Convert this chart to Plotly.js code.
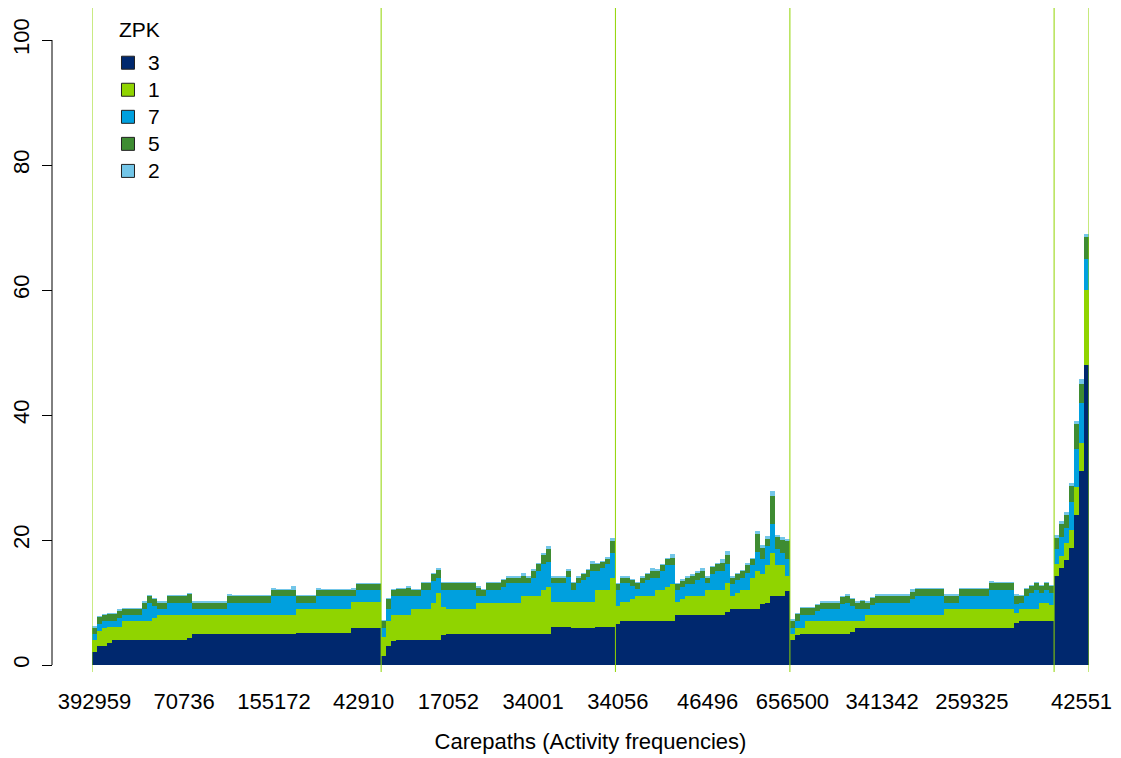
<!DOCTYPE html>
<html>
<head>
<meta charset="utf-8">
<script src="https://cdn.plot.ly/plotly-3.0.1.min.js"></script>
<style>html,body{margin:0;padding:0;background:#fff}#chart{width:1121px;height:758px}</style>
</head>
<body>
<div id="chart"></div>
<script>
// ZPK stacked counts per carepath bar, one line per carepath group
var zpk3 = [
  2.1,3,3,3.5,4,4, 4,4,4,4,4, 4,4,4,4,4, 4,4,4, 4.4, 5,5,5,5,5, 5,5,5,5,5, 5,5,5,5,5, 5,5,5,5,5, 5, 5.1,5.1,5.1,5.1,5.1, 5.1,5.1,5.1,5.1,5.1, 5.1, 6,6,6,6,6, 6,
  1.5,3,3.8, 4,4,4,4,4, 4,4,4,4, 4.8, 5,5,5,5,5, 5,5,5,5,5, 5,5,5,5,5, 5,5,5,5,5, 5, 6.1,6.1,6.1,6.1, 6,6,6,6,6, 6.1,6.1,6.1,6.1,
  6.6, 7,7,7,7,7, 7,7,7,7,7, 7, 8,8,8,8,8, 8,8,8,8,8, 8.5, 9,9,9,9,9, 9, 9.8,10,11,11,11,11.8,
  4,4.8, 5,5,5,5,5, 5,5,5,5,5, 5.3, 6,6,6,6,6, 6,6,6,6,6, 6,6,6,6,6, 6,6,6,6,6, 6,6,6,6,6, 6,6,6,6,6, 6,6, 6.8, 7.1,7.1,7.1,7.1,7.1, 7.1,7.1,
  14.3,15.5,16.8,18.8,24,31,48
];
var zpk1 = [
  1.9,2.5,3,2.6,2.1,2.1, 3.1,3.1,3.1,3.1,3.1, 3.1, 3.5, 4,4,4,4,4, 4, 3.6, 3,3,3,3,3, 3,3,3,3,3, 3,3,3,3,3, 3,3,3,3,3, 3, 3.9,3.9,3.9,3.9,3.9, 3.9,3.9,3.9,3.9,3.9, 3.9, 4.1,4.1,4.1,4.1,4.1, 4.1,
  3,4.1,4.2,4,4,4, 5,5,5,5, 6,7.5,4.5, 4,4,4,4,4, 4, 5,5,5,5,5, 5,5,5,5, 6,6,6,6, 7,7.5, 4,4,4,4, 4.1,4.1,4.1,4.1,4.1, 5.9,5.9,5.9, 7.9,
  2.9,3.1,3.1,3.6, 4.1,4.1,4.1,4.1, 5,5,5.5,6, 2.1,2.5, 3.1,3.1,3.1,3.1, 4,4,4,4, 4.6, 2.1,2.6,3,3,5,6.1,4.8,6,7,5,5,2.5,
  1,1.2,1, 2.1,2.1,2.1,2.1,2.1, 2.1,2.1,2.1,2.1, 1.8, 1.1,1.1, 2,2,2,2,2, 2,2,2,2,2, 2,2,2,2,2, 2, 3,3,3,3,3, 3,3,3,3,3, 3,3,3,3, 1.5, 1.9,1.9,1.9,1.9, 2.9,2.9,2.5,
  1.8,2,2.7,2.8,4.5,4.5,12
];
var zpk7 = [
  1,1,1,1,1,1.4, 0.9,0.9,0.9,0.9, 1.9,2.9,2,1,1, 2,2,2,2,2, 1,1,1,1,1, 1,1, 2,2,2,2,2, 2,2,2,2, 3,3,3,3,3, 1,1,1,1, 2,2,2,2,2, 2,2, 0.9, 1.9,1.9,1.9,1.9,1.9,
  1.5,1.9,3, 3.1,3.1,3.1, 2,2, 3,3, 3.5,2.5,2.7, 3,3,3,3,3, 3, 1,1, 2,2,2, 2.5, 3.1,3.1,3.1, 2.1,2.1,3,4.1,4.1,4, 3,3,3, 4,1.9,3,3.5,4,5, 3.1,3.5,4.1,4,
  2.5,3,3,2,1,2,2.5,2.9,2,3,3.5,3, 1.9,2,1.9,1.9,2.5,2.9,1.1,2.5,3.1,3.1,3, 1.9,2,2,2.8,2,3,2.4,3,4.5,2.5,2,2.7,
  1,1.1,2,0.9,0.9,1.5, 1.9,1.9,1.9,1.9, 2.7,2.9,2.4, 1.9,1.9,1,1.6, 2,2,2,2,2, 2,2, 2.6, 3,3,3,3,3, 3, 1,1,1, 2,2,2,2,2, 2, 3,3,3,3,3, 1.5,1,2,2.5,3,1.5,2,2,
  2.5,3,2.5,4.5,6,6.5,5
];
var zpk5 = [
  1,1.2,1,1,1,1.2, 1,1,1,1,1, 1,1,1,1,1, 1,1,1, 1.3, 1,1,1,1,1, 1,1,1,1,1, 1,1,1,1,1, 1,1,1,1,1, 1,1,1,1,1, 1,1,1,1,1, 1,1,1,1,1, 1,1,1,
  1,1.5,1,1,1,1.3,1,1,1.1,1.1,1,1.2,1.1, 1.1,1.1,1.1,1.1,1.1,1.1, 1.3,1, 1.1,1.1,1.1,1.1, 0.9,0.9,0.9, 1.2,0.9,1.1,1,1.5,2, 0.9,0.9,0.9, 1,1.1,0.9,1,1.1,1,1,1,0.9,1.8,
  1,0.9,0.9,1,1,0.9,1,1.1,1,1,1,1.2, 1,1,1,1.3,1.2,1.1,0.9,1.2,1,1.3,1.5, 1,1,1,1.2,1,2.9,1.8,1.2,4.5,2,2,2.8,
  1.1,1,1.1,1.1,1.1,1, 1,1,1,1, 1.1,1.1,1, 1,1.2,1,1.1, 1.1,1.1,1.1,1.1,1.1, 1.1,1.1,1.1,1.1,1.1, 1.1,1.1,1.1,1.1,1.1, 1.1,1.1,1.1,1.1,1.1, 1.1,1.1,1.1,1.1,1.1, 1.1,1.1,1.1, 1.2, 1, 1.1,1.1,1.1,1.1,1.1, 1,
  1.8,2,2,2.5,4,3,3.5
];
var zpk2 = [
  0.2,0.2,0.2,0.2,0.2, 0.2,0.2,0.2,0.2,0.2, 0.2,0.2,0.2,0.2,0.2, 0.2,0.2,0.2,0.2,0.2, 0.2,0.2,0.2,0.2,0.2, 0.2,0.2, 0.3, 0.2,0.2,0.2,0.2,0.2, 0.2,0.2,0.2, 0.4, 0.2,0.2,0.2, 0.6, 0.2,0.2,0.2,0.2, 0.4, 0.2,0.2,0.2,0.2,0.2, 0.2, 0.3, 0.2,0.2,0.2,0.2,0.2,
  0.2,0.2,0.2,0.2,0.2, 0.2,0.2,0.2,0.2,0.2, 0.3,0.3, 0.2,0.2,0.2,0.2,0.2, 0.2,0.2, 0.4, 0.2,0.2,0.2,0.2,0.2, 0.2,0.2,0.2, 0.4,0.2,0.2,0.3,0.4,0.5, 0.2,0.2,0.2, 0.3, 0.2,0.2,0.2,0.2, 0.5,0.2,0.2,0.3,0.6,
  0.2, 0.2,0.2,0.2,0.2,0.2,0.2, 0.4,0.3,0.2,0.2,0.5, 0.2,0.2,0.2, 0.3,0.2,0.4, 0.2,0.2,0.2, 0.5,0.6, 0.2,0.2,0.2, 0.4,0.2,0.5,0.4,0.4,0.8,0.3,0.5,0.3,
  0.2,0.3, 0.2,0.2,0.2,0.2,0.2, 0.2,0.2,0.2,0.2,0.2, 0.2,0.2,0.2,0.2,0.2, 0.2,0.2,0.2,0.2,0.2, 0.2,0.2, 0.4, 0.2,0.2,0.2,0.2,0.2, 0.2,0.2,0.2,0.2,0.2, 0.2,0.2,0.2,0.2,0.2, 0.4, 0.2,0.2,0.2,0.2, 0.3, 0.2,0.2,0.2,0.2,0.2, 0.2,0.2,
  0.4,0.5,0.5,0.6,0.5,0.8,0.4
];

// legend / series names and colours
var legendTitle = 'ZPK';
var seriesNames = ['3', '1', '7', '5', '2'];
var seriesColors = ['#00286E', '#90D400', '#00A0DE', '#3E8C32', '#73C6E8'];

// labelled carepaths (bar index -> activity frequency label)
var tickBars = [0, 18, 36, 54, 71, 88, 105, 123, 140, 158, 176, 198];
var tickLabels = ['392959', '70736', '155172', '42910', '17052', '34001', '34056', '46496', '656500', '341342', '259325', '42551'];

// first bar of each carepath group (plus end)
var groupStarts = [0, 58, 105, 140, 193, 200];

var series = [zpk3, zpk1, zpk7, zpk5, zpk2];
var n = zpk3.length;
series.forEach(function (s, k) { if (s.length !== n) console.error('length mismatch', seriesNames[k], s.length, n); });
var idx = zpk3.map(function (_, i) { return i; });

var FONT = 'Liberation Sans, Arial, Helvetica, sans-serif';

var traces = series.map(function (vals, k) {
  return {
    type: 'bar', x: idx, y: vals, name: seriesNames[k],
    marker: { color: seriesColors[k], line: { width: 0 } },
    showlegend: false, hoverinfo: 'skip'
  };
});
seriesNames.forEach(function (nm, k) {
  traces.push({
    type: 'scatter', mode: 'markers', x: [null], y: [null],
    name: '<span style="font-size:21px">' + nm + '</span>',
    marker: { symbol: 'square', size: 13, color: seriesColors[k], line: { color: '#222', width: 1 } },
    showlegend: true, hoverinfo: 'skip'
  });
});

var shapes = groupStarts.map(function (g) {
  return { type: 'line', xref: 'x', yref: 'paper', x0: g - 0.5, x1: g - 0.5, y0: 0, y1: 1,
           line: { color: '#90D400', width: 1 }, layer: 'above' };
});
shapes.push({ type: 'line', xref: 'paper', yref: 'y', x0: 0, x1: 0, y0: 0, y1: 100,
              line: { color: '#000', width: 1 } });

var layout = {
  width: 1121, height: 758,
  margin: { l: 52, r: 32, t: 8, b: 86 },
  paper_bgcolor: '#fff', plot_bgcolor: '#fff',
  barmode: 'stack', bargap: 0,
  font: { family: FONT, size: 22, color: '#000' },
  xaxis: {
    domain: [0.03857, 1], range: [-0.5, n - 0.5],
    showgrid: false, zeroline: false, showline: false, ticks: '',
    tickmode: 'array', tickvals: tickBars, ticktext: tickLabels,
    tickfont: { family: FONT, size: 22, color: '#000' },
    ticklabelstandoff: 14,
    title: { text: 'Carepaths (Activity frequencies)', font: { family: FONT, size: 22, color: '#000' }, standoff: 20 }
  },
  yaxis: {
    anchor: 'free', position: 0, range: [-1.12, 105.12],
    showgrid: false, zeroline: false, showline: false,
    tickmode: 'array', tickvals: [0, 20, 40, 60, 80, 100], ticktext: ['0', '20', '40', '60', '80', '100'],
    ticks: 'outside', ticklen: 10, tickwidth: 1, tickcolor: '#000', tickangle: -90,
    tickfont: { family: FONT, size: 22, color: '#000' },
    ticklabelstandoff: 4
  },
  legend: {
    x: 0.054, y: 0.9455, xanchor: 'left', yanchor: 'top', traceorder: 'normal',
    bgcolor: 'rgba(0,0,0,0)', borderwidth: 0, tracegroupgap: 0,
    font: { family: FONT, size: 18.5, color: '#000' }
  },
  annotations: [{
    text: legendTitle, xref: 'paper', yref: 'paper', x: 0.0844, y: 0.968,
    xanchor: 'center', yanchor: 'middle', showarrow: false,
    font: { family: FONT, size: 21, color: '#000' }
  }],
  shapes: shapes
};

Plotly.newPlot('chart', traces, layout, { displayModeBar: false, staticPlot: true });
</script>
</body>
</html>
